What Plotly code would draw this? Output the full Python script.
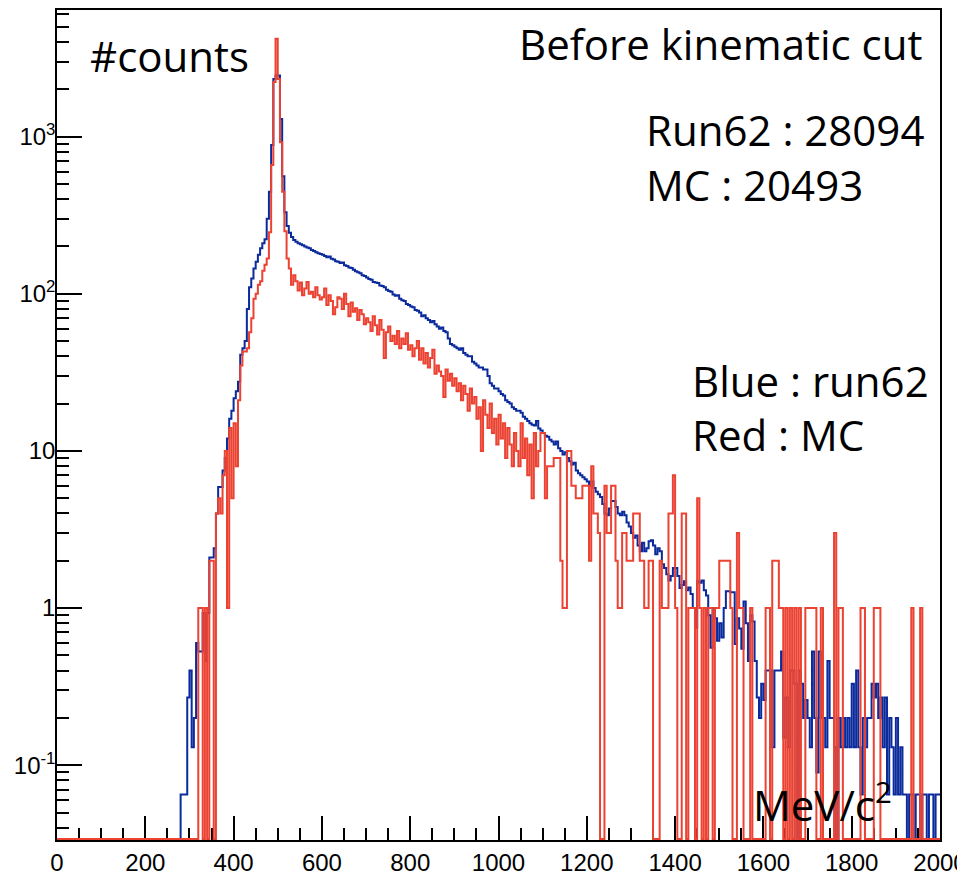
import numpy as np
import plotly.graph_objects as go

# ---- data: 5 MeV bins from 0 to 2000 MeV/c^2 ----
bin_width = 5
x_min, x_max = 0, 2000

blue_run62 = [
    0, 0, 0, 0, 0, 0, 0, 0, 0, 0, 0, 0, 0, 0, 0, 0, 0, 0, 0, 0,
    0, 0, 0, 0, 0, 0, 0, 0, 0, 0, 0, 0, 0, 0, 0, 0, 0, 0, 0, 0,
    0, 0, 0, 0, 0, 0, 0, 0, 0, 0, 0, 0, 0, 0, 0, 0, 0.065, 0.065, 0.065, 0.27,
    0.4, 0.13, 0.2, 0.6, 0.53, 0.53, 0.93, 0.46, 0.93, 2.1, 2.1, 2.4, 4.0, 5.9, 5.9, 7.5, 9.0, 12, 16, 18,
    21.6, 24, 27.6, 41, 45, 50, 80, 110, 125, 145, 160, 177, 195, 210, 222, 300, 446, 884, 2330, 2450,
    2450, 1297, 560, 330, 270, 245, 230, 220, 214, 210, 207, 204, 200, 197, 195, 190, 187, 184, 181, 179,
    177, 174, 171, 173, 167, 165, 161, 160, 157, 158, 152, 150, 147, 146, 142, 139, 137, 135, 131, 130,
    127, 124, 123, 119, 118, 117, 113, 112, 110, 106, 104, 103, 99, 97, 98, 93, 91, 90, 86, 85,
    83, 82, 79, 78, 76, 72, 73, 70, 68, 66, 67, 64, 62, 60, 61, 58, 57, 52, 48, 47,
    46, 45, 44, 45, 42, 41, 40, 40, 37, 36, 35, 34, 34, 33, 33, 30, 27, 26, 25, 25,
    24, 23, 22.5, 21, 20.5, 20, 19, 18.5, 18, 18, 17.5, 16.5, 16, 15.5, 15, 14.7, 14.5, 15.5, 13.9, 13.5,
    13, 12.5, 12.3, 11.8, 11.5, 11, 11.5, 10.4, 10, 9.5, 9.8, 9, 8.6, 8.2, 8.4, 7.5, 7.2, 7.0, 6.8, 6.6,
    6.4, 6.0, 6.4, 5.8, 5.5, 5.3, 5.1, 4.6, 4.0, 3.9, 4.3, 4.8, 4.8, 4.4, 4.0, 3.9, 4.1, 3.9, 3.5, 3.3,
    3.0, 2.8, 2.9, 2.5, 2.3, 2.6, 2.3, 2.4, 2.66, 2.7, 2.5, 2.2, 2.4, 2.3, 1.9, 1.8, 1.64, 1.5, 1.6, 1.8,
    1.8, 1.6, 1.34, 1.4, 1.48, 1.3, 1.35, 1.23, 1.0, 0.75, 1.48, 1.45, 1.5, 1.3, 1.2, 0.9, 0.56, 1.0, 0.86, 0.62,
    0.8, 0.65, 1.0, 1.28, 1.28, 1.26, 1.26, 0.59, 0.86, 0.74, 0.55, 1.1, 0.8, 0.46, 0.9, 0.82, 0.46, 0.27, 0.2, 0.33,
    0.26, 0.4, 0.4, 0.4, 0.13, 0.4, 0.4, 0.4, 0.53, 0.15, 0.27, 0.13, 0.4, 0.4, 0.33, 0, 0.4, 0.33, 0.2, 0.26,
    0.2, 0.13, 0.53, 0.2, 0.09, 0.53, 0.2, 0.2, 0.13, 0.46, 0.2, 0.2, 0.13, 0, 0.2, 0.13, 0.2, 0.13, 0.2, 0.13,
    0.33, 0.13, 0.4, 0.13, 0.065, 0.2, 0.13, 0.2, 0.2, 0.33, 0.27, 0.33, 0.2, 0.27, 0.13, 0.27, 0.065, 0.2, 0.13, 0.065,
    0.2, 0.065, 0.13, 0.065, 0.065, 0, 0.065, 0.065, 0, 0.065, 0.065, 0, 0.065, 0.065, 0, 0.065, 0.065, 0, 0.065, 0.065,
]

red_mc = [
    0, 0, 0, 0, 0, 0, 0, 0, 0, 0, 0, 0, 0, 0, 0, 0, 0, 0, 0, 0,
    0, 0, 0, 0, 0, 0, 0, 0, 0, 0, 0, 0, 0, 0, 0, 0, 0, 0, 0, 0,
    0, 0, 0, 0, 0, 0, 0, 0, 0, 0, 0, 0, 0, 0, 0, 0, 0, 0, 0, 0,
    0, 0, 0, 0, 1, 1, 0, 1, 0, 2, 2, 0, 4, 5, 4, 7, 10, 1, 14, 5,
    15, 8, 21, 35, 43, 43, 45, 57, 70, 93, 100, 114, 120, 140, 153, 168, 246, 660, 2225, 4200,
    2330, 920, 446, 250, 168, 145, 114, 131, 120, 105, 118, 98, 108, 119, 100, 103, 95, 110, 98, 92,
    95, 108, 85, 98, 90, 74, 82, 95, 93, 80, 100, 86, 72, 88, 77, 81, 68, 79, 74, 64,
    70, 66, 58, 72, 63, 55, 68, 59, 39, 57, 62, 50, 54, 48, 58, 45, 52, 48, 56, 44,
    47, 40, 45, 50, 38, 45, 36, 42, 34, 39, 44, 31, 35, 32, 30, 22, 33, 28, 31, 26,
    29, 24, 27, 21, 26, 23, 18, 25, 20, 22, 16, 19, 10, 21, 17, 14, 20, 13, 16, 11,
    17, 12, 15, 9, 14, 11, 8, 13, 10, 8, 15, 9, 12, 7, 11, 5, 13, 8, 10, 13,
    13, 5, 8, 8, 8, 9, 9, 9, 2, 1, 1, 10, 10, 6, 6, 5, 5, 5, 6, 6,
    6, 2, 8, 4, 4, 3, 0, 0, 6, 3, 3, 6, 6, 2, 1, 1, 3, 3, 2, 2,
    2, 4, 4, 4, 2, 2, 1, 1, 2, 2, 0, 0, 0, 2, 1, 1, 1, 4, 4, 7,
    1, 0, 0, 4, 4, 0, 1, 1, 1, 0, 5, 1, 0, 1, 0, 1, 1, 0, 1, 1,
    2, 2, 2, 2, 2, 1, 0, 0, 3, 1, 1, 0, 0, 0, 1, 0, 0, 0, 0, 0,
    0, 1, 1, 0, 2, 2, 2, 1, 1, 0, 1, 0, 1, 0, 1, 0, 1, 0, 0, 1,
    1, 1, 1, 1, 0, 0, 1, 0, 0, 0, 0, 0, 3, 0, 1, 1, 0, 0, 0, 0,
    0, 0, 0, 0, 1, 1, 0, 0, 0, 0, 1, 1, 1, 0, 0, 0, 0, 0, 0, 0,
    0, 0, 0, 0, 0, 0, 0, 1, 0, 0, 0, 1, 0, 0, 0, 0, 0, 0, 0, 0,
]

x_tick_values = list(range(0, 2001, 200))
y_tick_values = [0.1, 1, 10, 100, 1000]
y_tick_labels = ["10<sup>-1</sup>", "1", "10", "10<sup>2</sup>", "10<sup>3</sup>"]

# ---- drawing ----
log_lo, log_hi = -1.476, 3.806
floor = 10 ** (log_lo + 0.006)   # zero-content bins drawn on the frame floor (ROOT style)

edges = np.arange(x_min, x_max + bin_width, bin_width)


def step_y(vals):
    v = [val if val > 0 else floor for val in vals]
    return v + [v[-1]]


fig = go.Figure()
fig.add_trace(go.Scatter(x=edges, y=step_y(blue_run62), mode="lines", line_shape="hv",
                         line=dict(color="#0b2a9c", width=2), name="run62"))
fig.add_trace(go.Scatter(x=edges, y=step_y(red_mc), mode="lines", line_shape="hv",
                         line=dict(color="#eb4232", width=2), name="MC"))

minor_y = [k * 10 ** d for d in range(-2, 4) for k in range(2, 10)]

tickfont = dict(family="Liberation Sans, Arial, sans-serif", size=24, color="black")

# page has an 8px body margin; margins below place the frame at x 57..940, y 8..840 on the page
fig.update_layout(
    width=965, height=881,
    margin=dict(l=49, r=33, t=0, b=49),
    plot_bgcolor="white", paper_bgcolor="white",
    showlegend=False,
    xaxis=dict(range=[x_min, x_max], tickmode="array", tickvals=x_tick_values,
               ticks="inside", ticklen=24, tickwidth=1.5, tickcolor="black",
               minor=dict(dtick=50, tick0=0, ticks="inside", ticklen=12, tickwidth=1.5, tickcolor="black"),
               showline=True, linecolor="black", linewidth=1.5, mirror=True,
               showgrid=False, zeroline=False, tickfont=tickfont, layer="below traces"),
    yaxis=dict(type="log", range=[log_lo, log_hi], tickmode="array",
               tickvals=y_tick_values, ticktext=y_tick_labels,
               ticks="inside", ticklen=25, tickwidth=1.5, tickcolor="black",
               minor=dict(tickmode="array", tickvals=minor_y, ticks="inside", ticklen=12,
                          tickwidth=1.5, tickcolor="black"),
               ticklabelstandoff=-5,
               showline=True, linecolor="black", linewidth=1.5, mirror=True,
               showgrid=False, zeroline=False, tickfont=tickfont, layer="below traces"),
)

txtfont = dict(family="Open Sans, Noto Sans, sans-serif", size=42, color="black")
W, H, L, B = 883.0, 832.0, 57.0, 840.0


def ann(text, px, py):
    fig.add_annotation(text=text, xref="paper", yref="paper",
                       x=(px - L) / W, y=(B - py) / H, xanchor="left", yanchor="middle",
                       showarrow=False, font=txtfont)


ann("#counts", 88, 54)
ann("Before kinematic cut", 517, 42)
ann("Run62 : 28094", 644, 128)
ann("MC : 20493", 644, 183)
ann("Blue : run62", 690, 379)
ann("Red : MC", 690, 434)
ann("MeV/c<sup>2</sup>", 751, 802)

fig.write_html("out.html")
